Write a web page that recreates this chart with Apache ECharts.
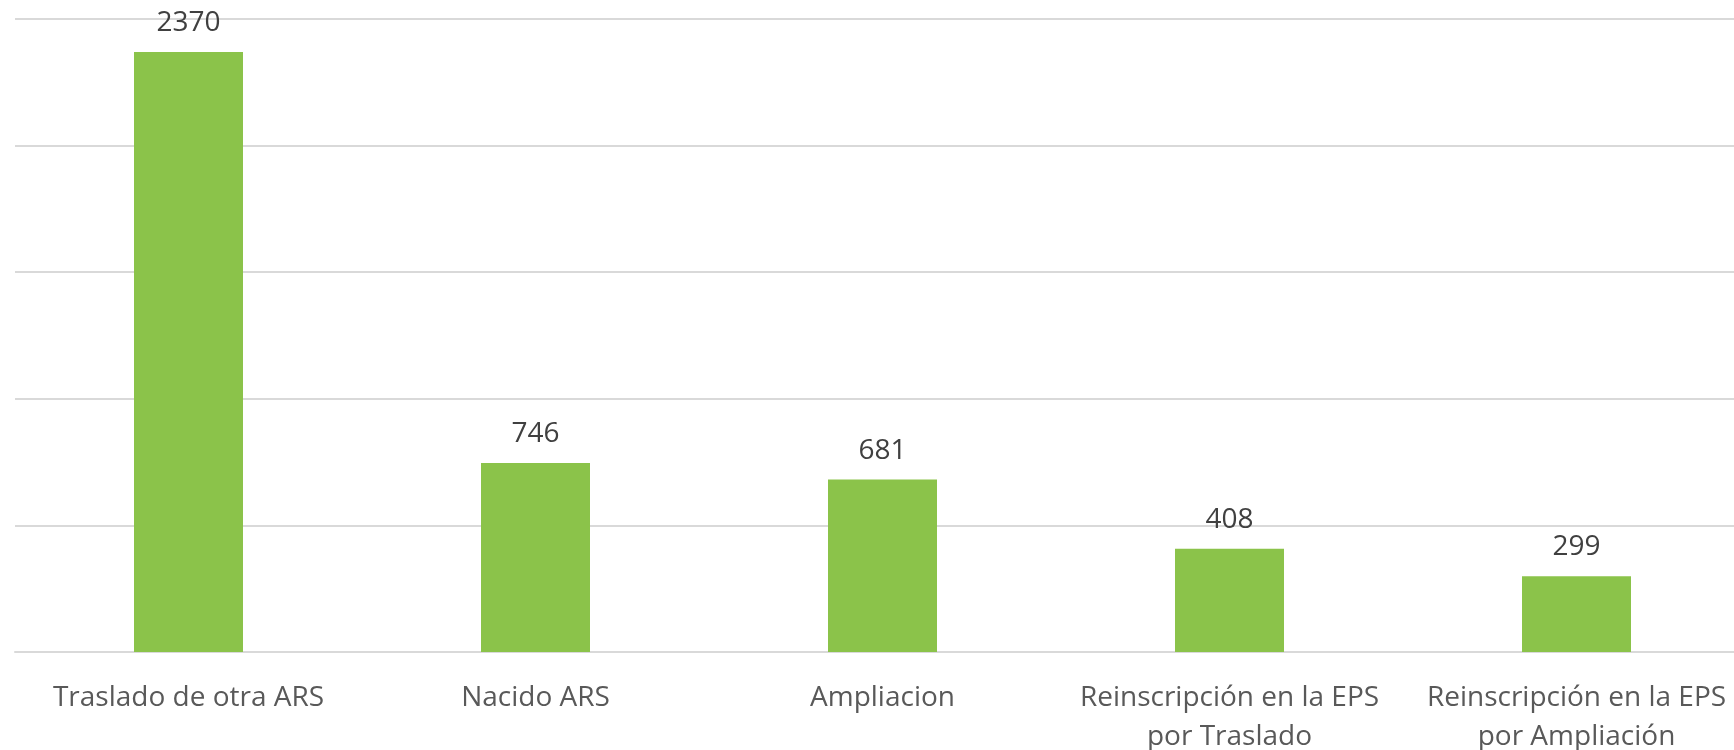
<!DOCTYPE html>
<html>
<head>
<meta charset="utf-8">
<script src="https://cdn.jsdelivr.net/npm/echarts@6/dist/echarts.min.js"></script>
<style>
  html, body { margin: 0; padding: 0; background: #fff; }
  #chart { width: 1734px; height: 750px; }
</style>
</head>
<body>
<div id="chart"></div>
<script>
// datos
let categorias = ['Traslado de otra ARS', 'Nacido ARS', 'Ampliacion', 'Reinscripción en la EPS\npor Traslado', 'Reinscripción en la EPS\npor Ampliación']
let valores = [2370, 746, 681, 408, 299]
let ejeMax = 2500
let ejeIntervalo = 500

;(function () {
  let mychart = echarts.init(document.querySelector('#chart'))
  let option = {
    animation: false,
    textStyle: { fontFamily: 'Open Sans' },
    grid: {
      left: 15,
      right: -16,
      top: 19,
      bottom: 98,
      containLabel: false,
      outerBoundsMode: 'none'
    },
    xAxis: {
      type: 'category',
      data: categorias,
      axisLine: { lineStyle: { color: '#d9d9d9', width: 2 } },
      axisTick: { show: false },
      axisLabel: {
        interval: 0,
        margin: 27,
        fontSize: 28,
        lineHeight: 39,
        color: '#595959',
        fontFamily: 'Open Sans'
      }
    },
    yAxis: {
      type: 'value',
      min: 0,
      max: ejeMax,
      interval: ejeIntervalo,
      axisLabel: { show: false },
      axisLine: { show: false },
      axisTick: { show: false },
      splitLine: { lineStyle: { color: '#d9d9d9', width: 2 } }
    },
    series: [
      {
        type: 'bar',
        data: valores,
        barWidth: 109,
        itemStyle: { color: '#8bc34a' },
        label: {
          show: true,
          position: 'top',
          distance: 15,
          fontSize: 28,
          color: '#404040',
          fontFamily: 'Open Sans'
        }
      }
    ]
  }
  mychart.setOption(option)
})();
</script>
</body>
</html>
